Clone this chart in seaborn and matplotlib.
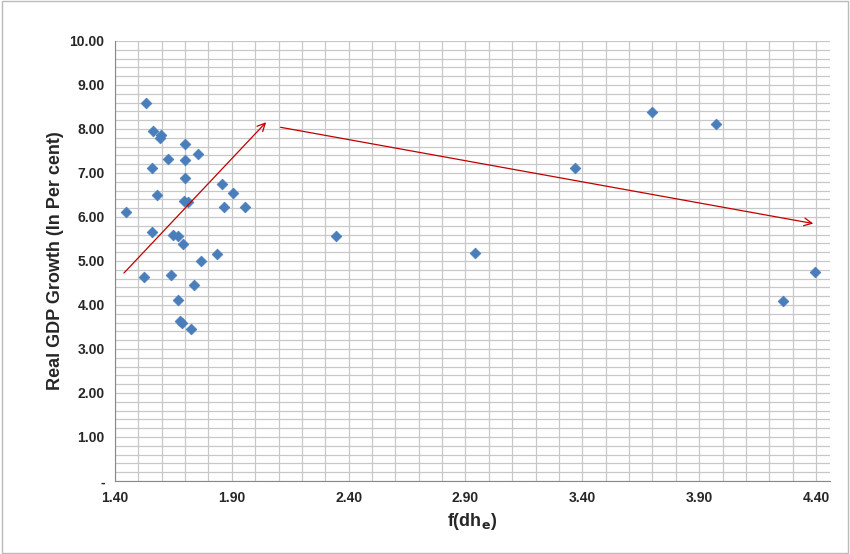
import numpy as np
import pandas as pd
import seaborn as sns
import matplotlib.pyplot as plt
from matplotlib.ticker import MultipleLocator

f_dhe = [1.533, 1.563, 1.597, 1.593, 1.558, 1.627, 1.70, 1.70, 1.755, 1.70,
         1.58, 1.695, 1.712, 1.858, 1.905, 1.866, 1.956, 1.447, 1.558, 1.648,
         1.67, 1.69, 1.768, 1.836, 1.524, 1.64, 1.738, 1.67, 1.678, 1.687,
         1.725, 2.346, 2.94, 3.37, 3.70, 3.97, 4.26, 4.395]
gdp_growth = [8.59, 7.95, 7.86, 7.80, 7.11, 7.32, 7.66, 7.30, 7.43, 6.89,
              6.50, 6.36, 6.34, 6.75, 6.55, 6.23, 6.23, 6.11, 5.66, 5.59,
              5.57, 5.39, 5.00, 5.16, 4.64, 4.68, 4.45, 4.11, 3.64, 3.59,
              3.45, 5.57, 5.18, 7.11, 8.39, 8.11, 4.09, 4.75]
x_ticks = [1.4, 1.9, 2.4, 2.9, 3.4, 3.9, 4.4]
y_ticks = list(range(0, 11))

df = pd.DataFrame({'x': f_dhe, 'y': gdp_growth})

sns.set_style('white')
plt.rcParams['font.family'] = ['Liberation Sans', 'DejaVu Sans']

fig = plt.figure(figsize=(8.5, 5.54), dpi=100)
ax = fig.add_axes([115 / 850, 1 - 481 / 554, 715 / 850, 440 / 554])

sns.scatterplot(data=df, x='x', y='y', ax=ax, marker='D', s=30,
                color='#4a7ebb', edgecolor='#4a7ebb', linewidth=0.5, zorder=3)

ax.set_xlim(1.40, 4.46)
ax.set_ylim(0, 10)
ax.set_xticks(x_ticks, [f'{v:.2f}' for v in x_ticks], fontsize=10, fontweight='bold')
ax.set_yticks(y_ticks, ['-'] + [f'{v:.2f}' for v in y_ticks[1:]], fontsize=10, fontweight='bold')
ax.xaxis.set_minor_locator(MultipleLocator(0.1))
ax.yaxis.set_minor_locator(MultipleLocator(0.2))
ax.grid(True, which='both', color='#c8c8c8', linewidth=0.9, zorder=0)
ax.set_axisbelow(True)
ax.tick_params(axis='both', which='major', length=4, color='#888888', direction='out')
ax.tick_params(axis='both', which='minor', length=0)
for side in ['top', 'right']:
    ax.spines[side].set_visible(False)
for side in ['left', 'bottom']:
    ax.spines[side].set_color('#888888')

ax.set_xlabel('f(dh$_\\mathbf{e}$)', fontsize=13, fontweight='bold')
ax.set_ylabel('Real GDP Growth (In Per cent)', fontsize=13, fontweight='bold')

arrow = dict(arrowstyle='->', color='#c00000', lw=0.9, mutation_scale=14)
ax.annotate('', xy=(2.055, 8.20), xytext=(1.43, 4.68), arrowprops=arrow)
ax.annotate('', xy=(4.40, 5.84), xytext=(2.097, 8.05), arrowprops=arrow)

fig.patches.append(plt.Rectangle((0.002, 0.002), 0.996, 0.996, transform=fig.transFigure,
                                 fill=False, edgecolor='#bbbbbb', linewidth=1))
fig.savefig('out.png', dpi=100)
